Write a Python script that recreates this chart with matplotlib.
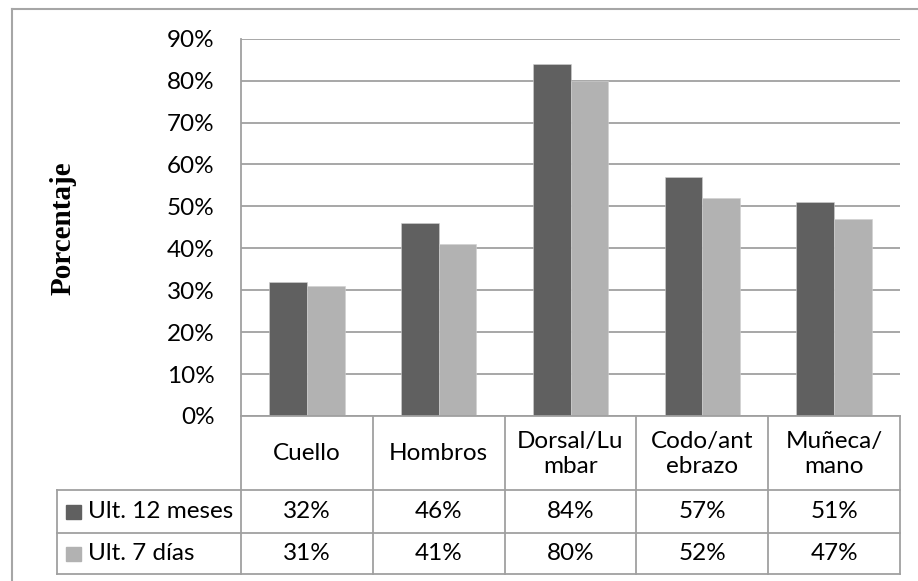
import numpy as np
import matplotlib.pyplot as plt
from matplotlib.lines import Line2D

# Datos
categorias = ["Cuello", "Hombros", "Dorsal/Lu\nmbar", "Codo/ant\nebrazo", "Muñeca/\nmano"]
series = ["Ult. 12 meses", "Ult. 7 días"]
ult_12_meses = [32, 46, 84, 57, 51]
ult_7_dias = [31, 41, 80, 52, 47]
colores = ["#606060", "#b2b2b2"]

W, H = 918, 581
fig = plt.figure(figsize=(W / 100, H / 100), dpi=100)
fuente = "Lato"
fs = 17.5
gris = "#a0a0a0"

def px(x0, y0, x1, y1):
    # caja en pixeles -> coordenadas de figura
    return [x0 / W, 1 - y1 / H, (x1 - x0) / W, (y1 - y0) / H]

# Marco exterior
fig.add_artist(Line2D([12 / W, 12 / W], [0, 1 - 9 / H], color="#a6a6a6", lw=1.5))
fig.add_artist(Line2D([12 / W, 1], [1 - 9 / H, 1 - 9 / H], color="#a6a6a6", lw=1.5))

# Area de barras
x0, x1, y_top, y_bot = 241, 900, 38.7, 416
ax = fig.add_axes(px(x0, y_top, x1, y_bot))
n = len(categorias)
x = np.arange(n) + 0.5
ancho = 1 / 3.5
valores = [ult_12_meses, ult_7_dias]
for i, (vals, c) in enumerate(zip(valores, colores)):
    ax.bar(x + (i - 0.5) * ancho, np.array(vals) / 100, width=ancho, color=c,
           edgecolor="#d0d0d0", linewidth=0.4, zorder=3)

ax.set_xlim(0, n)
ax.set_ylim(0, 0.9)
ax.set_yticks(np.arange(0, 0.91, 0.1))
ax.set_yticklabels([f"{int(round(v * 100))}%" for v in np.arange(0, 0.91, 0.1)],
                   fontsize=fs, family=fuente)
ax.tick_params(axis="y", length=0, pad=19)
ax.set_xticks([])
ax.grid(axis="y", color=gris, lw=1.3, zorder=0)
for s in ["top", "right", "bottom"]:
    ax.spines[s].set_visible(False)
ax.spines["left"].set_color(gris)
ax.spines["left"].set_linewidth(1.3)

fig.text(63 / W, 1 - 228 / H, "Porcentaje", rotation=90, ha="center", va="center",
         fontsize=21, fontweight="bold", family="Liberation Serif")

# Tabla de datos
leg_x = 57
filas_y = [416, 490, 533, 574]
tab = fig.add_axes(px(leg_x, filas_y[0], x1, filas_y[-1]))
tab.set_xlim(-(x0 - leg_x) / ((x1 - x0) / n), n)
tab.set_ylim(filas_y[-1], filas_y[0])
tab.axis("off")
lk = dict(color=gris, lw=1.3, clip_on=False)
tab.plot([0, n], [filas_y[0]] * 2, **lk)
xl = tab.get_xlim()[0]
for yy in filas_y[1:]:
    tab.plot([xl, n], [yy, yy], **lk)
tab.plot([xl, xl], [filas_y[1], filas_y[-1]], **lk)
for k in range(n + 1):
    tab.plot([k, k], [filas_y[0], filas_y[-1]], **lk)

for k, cat in enumerate(categorias):
    tab.text(k + 0.5, (filas_y[0] + filas_y[1]) / 2 + 1, cat, ha="center", va="center",
             fontsize=fs, family=fuente, linespacing=1.25)
for r, (nombre, vals, c) in enumerate(zip(series, valores, colores)):
    yc = (filas_y[r + 1] + filas_y[r + 2]) / 2
    for k, v in enumerate(vals):
        tab.text(k + 0.5, yc, f"{v}%", ha="center", va="center", fontsize=fs, family=fuente)
    sx = xl + 0.07
    tab.add_patch(plt.Rectangle((sx, yc - 7), 0.11, 14, color=c, clip_on=False))
    tab.text(sx + 0.165, yc, nombre, ha="left", va="center", fontsize=fs, family=fuente)

fig.savefig("out.png", dpi=100)
